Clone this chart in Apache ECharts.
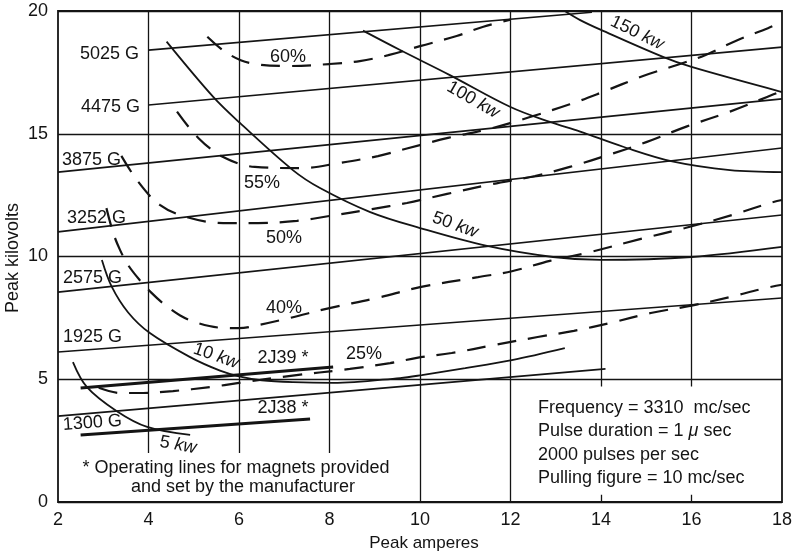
<!DOCTYPE html>
<html><head><meta charset="utf-8">
<script src="https://cdn.jsdelivr.net/npm/echarts@6/dist/echarts.min.js"></script>
<style>html,body{margin:0;padding:0;background:#fff}#c{width:797px;height:556px}</style>
</head><body><div id="c"></div>
<script>
// ---- axis ticks ----
const xTicks = [2, 4, 6, 8, 10, 12, 14, 16, 18];
const yTicks = [0, 5, 10, 15, 20];
// vertical grid segments: [x, yFrom, yTo]
const vGrid = [[4, 2, 20], [6, 2, 20], [8, 2, 20], [10, 0, 20], [12, 0, 20], [14, 4.7, 20], [16, 4.7, 20], [14, 0, 0.3], [16, 0, 0.3]];

// ---- magnet field lines (Gauss) ----
const g5025 = [[4, 18.41], [13.8, 19.95]];
const g4475 = [[4, 16.17], [18, 18.53]];
const g3875 = [[2, 13.44], [18, 16.42]];
const g3252 = [[2, 11.0], [18, 14.42]];
const g2575 = [[2, 8.55], [18, 11.69]];
const g1925 = [[2, 6.11], [18, 8.31]];
const g1300 = [[2, 3.5], [14.1, 5.42]];
// operating lines (manufacturer magnets)
const op2J39 = [[2.5, 4.64], [8.08, 5.5]];
const op2J38 = [[2.5, 2.73], [7.57, 3.38]];

// ---- constant output power curves ----
const kw5 = [[2.33, 5.7], [2.64, 4.68], [3.3, 3.7], [3.97, 3.06], [4.92, 2.73]];
const kw10 = [[2.97, 9.86], [3.19, 8.76], [3.55, 7.72], [4.03, 6.88], [4.92, 5.9], [5.58, 5.35], [6.0, 5.12], [6.5, 4.96], [7.2, 4.88], [8.08, 4.85], [9.56, 5.05], [10.04, 5.17], [11.0, 5.45], [12.03, 5.78], [13.2, 6.27]];
const kw50 = [[4.4, 18.75], [5.43, 16.5], [6.02, 15.44], [7.19, 13.52], [7.79, 12.79], [8.9, 11.81], [10.0, 11.16], [11.48, 10.43], [12.94, 9.98], [14.0, 9.86], [16.0, 9.98], [18.0, 10.39]];
const kw100 = [[8.74, 19.2], [9.56, 18.41], [10.66, 17.39], [12.0, 16.09], [12.87, 15.48], [13.54, 15.09], [14.49, 14.47], [15.6, 13.86], [16.85, 13.52], [18, 13.44]];
const kw150 = [[13.2, 20], [13.54, 19.63], [14.0, 19.23], [15.37, 18.13], [16.0, 17.72], [18, 16.7]];

// ---- constant efficiency curves ----
const eff25 = [[2.9, 4.65], [3.37, 4.44], [3.88, 4.44], [4.54, 4.52], [5.36, 4.68], [6.0, 4.85], [7.1, 5.13], [8.45, 5.42], [9.34, 5.66], [9.93, 5.87], [10.7, 6.07], [11.66, 6.4], [12.6, 6.72], [13.4, 6.97], [14.2, 7.29], [15.1, 7.7], [16.0, 8.0], [16.85, 8.35], [17.6, 8.7], [18, 8.85]];
const eff40 = [[3.07, 11.97], [3.22, 10.96], [3.37, 10.27], [3.55, 9.65], [3.8, 9.05], [4.05, 8.55], [4.35, 8.05], [4.7, 7.6], [5.07, 7.3], [5.58, 7.1], [6.0, 7.08], [6.46, 7.22], [7.13, 7.5], [8.0, 7.9], [9.05, 8.31], [10.0, 8.75], [11.28, 9.16], [12.03, 9.4], [12.87, 9.82], [13.76, 10.18], [14.86, 10.71], [15.86, 11.16], [16.9, 11.69], [17.73, 12.18], [18, 12.3]];
const eff50 = [[3.4, 14.1], [3.75, 13.1], [4.25, 12.1], [4.85, 11.6], [5.65, 11.36], [6.42, 11.36], [7.28, 11.45], [8.0, 11.65], [8.94, 11.93], [9.71, 12.18], [10.6, 12.55], [11.6, 12.95], [12.54, 13.28], [13.31, 13.65], [14.27, 14.2], [15.0, 14.66], [15.9, 15.3], [16.85, 15.9], [17.67, 16.5], [18, 16.75]];
const eff55 = [[4.63, 15.9], [5.1, 14.83], [5.65, 14.05], [6.35, 13.65], [7.39, 13.6], [8.19, 13.8], [9.07, 14.09], [9.71, 14.4], [10.62, 14.83], [11.6, 15.23], [12.43, 15.68], [13.31, 16.2], [13.98, 16.66], [14.93, 17.35], [15.68, 17.8], [16.3, 18.2], [17.0, 18.8], [17.69, 19.3], [18, 19.55]];
const eff60 = [[5.3, 18.95], [5.73, 18.29], [6.24, 17.88], [7.13, 17.76], [8.0, 17.84], [8.67, 17.96], [9.3, 18.2], [10.0, 18.57], [10.81, 18.98], [11.4, 19.36], [12.0, 19.65]];

// ---- texts ----
const gaussLabels = ['5025 G', '4475 G', '3875 G', '3252 G', '2575 G', '1925 G', '1300 G'];
const effLabels = ['60%', '55%', '50%', '40%', '25%'];
const kwLabels = ['5', '10', '50', '100', '150'];
const opLabels = ['2J39 *', '2J38 *'];
const noteLines = ['* Operating lines for magnets provided', 'and set by the manufacturer'];
const infoLines = ['Frequency = 3310  mc/sec', 'Pulse duration = 1 {i|\u03bc} sec', '2000 pulses per sec', 'Pulling figure = 10 mc/sec'];
const xName = 'Peak amperes';
const yName = 'Peak kilovolts';

const FONT = 'Liberation Sans, Arial, sans-serif';
const INK = '#141414';

const chart = echarts.init(document.getElementById('c'), null, {renderer: 'canvas'});

function solid(data, w) {
  return {type: 'line', data: data, showSymbol: false, smooth: 0.35, silent: true, z: 3,
    lineStyle: {color: INK, width: w || 1.8}};
}
function dashed(data) {
  return {type: 'line', data: data, showSymbol: false, smooth: 0.35, silent: true, z: 3,
    lineStyle: {color: INK, width: 2.2, type: [19, 12]}};
}

const series = [
  {type: 'lines', coordinateSystem: 'cartesian2d', silent: true, z: 1,
    data: vGrid.map(v => ({coords: [[v[0], v[1]], [v[0], v[2]]]})),
    lineStyle: {color: INK, width: 1.3, opacity: 1}},
  solid(g5025, 1.7), solid(g4475, 1.7), solid(g3875, 1.7), solid(g3252, 1.7),
  solid(g2575, 1.7), solid(g1925, 1.7), solid(g1300, 1.7),
  solid(op2J39, 3), solid(op2J38, 3),
  solid(kw5), solid(kw10), solid(kw50), solid(kw100), solid(kw150),
  dashed(eff25), dashed(eff40), dashed(eff50), dashed(eff55), dashed(eff60)
];

function txt(text, x, y, opt) {
  opt = opt || {};
  return {type: 'text', x: x, y: y, rotation: (opt.rot || 0) * Math.PI / 180, z: 10, silent: true,
    style: {text: text, fill: INK, font: (opt.size || 18) + 'px ' + FONT,
      align: opt.align || 'center', verticalAlign: 'middle',
      rich: {i: {fontStyle: 'italic', fontSize: opt.size || 18, fontFamily: FONT, fill: INK}}}};
}
function kw(n, x, y, rot) {
  return txt(n + ' {i|kw}', x, y, {rot: rot});
}

const graphics = [
  txt(gaussLabels[0], 139, 54, {align: 'right'}),
  txt(gaussLabels[1], 140, 107, {align: 'right'}),
  txt(gaussLabels[2], 62, 160, {align: 'left'}),
  txt(gaussLabels[3], 67, 218, {align: 'left'}),
  txt(gaussLabels[4], 63, 278, {align: 'left'}),
  txt(gaussLabels[5], 63, 337, {align: 'left'}),
  txt(gaussLabels[6], 63, 425, {align: 'left', rot: 4}),
  txt(effLabels[0], 288, 57),
  txt(effLabels[1], 262, 183),
  txt(effLabels[2], 284, 238),
  txt(effLabels[3], 284, 308),
  txt(effLabels[4], 364, 354),
  kw(kwLabels[0], 178, 445, -10),
  kw(kwLabels[1], 216, 356, -19),
  kw(kwLabels[2], 455, 225, -20),
  kw(kwLabels[3], 473, 100, -30),
  kw(kwLabels[4], 637, 33, -26),
  txt(opLabels[0], 283, 358),
  txt(opLabels[1], 283, 408),
  txt(noteLines[0], 236, 468),
  txt(noteLines[1], 243, 487),
  txt(infoLines[0], 538, 408, {align: 'left'}),
  txt(infoLines[1], 538, 431, {align: 'left'}),
  txt(infoLines[2], 538, 455, {align: 'left'}),
  txt(infoLines[3], 538, 478, {align: 'left'}),
  txt(xName, 424, 543, {size: 17}),
  txt(yName, 13, 258, {size: 18, rot: 90})
];

chart.setOption({
  animation: false,
  backgroundColor: '#fff',
  grid: {left: 58, right: 15, top: 11, bottom: 54, show: true, borderColor: INK, borderWidth: 1.8, backgroundColor: 'transparent'},
  xAxis: {type: 'value', min: xTicks[0], max: xTicks[xTicks.length - 1], interval: 2,
    axisLine: {show: false}, axisTick: {show: false}, splitLine: {show: false},
    axisLabel: {fontSize: 18, color: INK, margin: 9, fontFamily: FONT}},
  yAxis: {type: 'value', min: yTicks[0], max: yTicks[yTicks.length - 1], interval: 5,
    axisLine: {show: false}, axisTick: {show: false},
    splitLine: {show: true, lineStyle: {color: INK, width: 1.3}},
    axisLabel: {fontSize: 18, color: INK, margin: 10, fontFamily: FONT}},
  series: series,
  graphic: graphics
});
</script>
</body></html>
